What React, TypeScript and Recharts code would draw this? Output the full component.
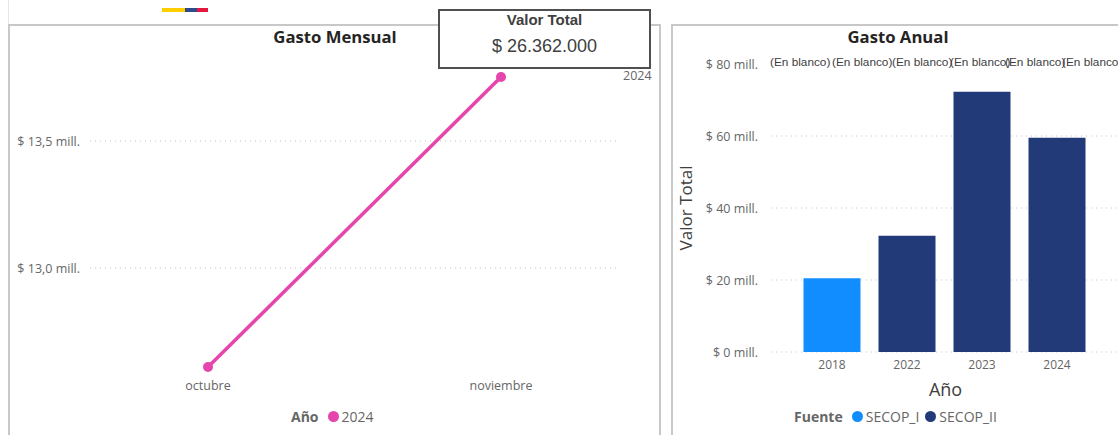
import React from 'react';
import {
  LineChart,
  Line,
  BarChart,
  Bar,
  XAxis,
  YAxis,
  CartesianGrid,
  Label,
} from 'recharts';

const months = ['octubre', 'noviembre'];
const monthlyValues = [12610000, 13752000];
const monthlyTicks = [13000000, 13500000];

const years = ['2018', '2022', '2023', '2024'];
const secopI = [20500000, null, null, null];
const secopII = [null, 32300000, 72300000, 59500000];
const annualTicks = [0, 20000000, 40000000, 60000000, 80000000];
const annualGridLines = [0, 20000000, 40000000, 60000000];
const blankLabels = ['(En blanco)', '(En blanco)', '(En blanco)', '(En blanco)', '(En blanco)', '(En blanco)'];
const blankLabelLefts = [770, 832, 892, 950, 1005, 1062];

const monthlyData = months.map((mes, i) => ({ mes, valor: monthlyValues[i] }));
const annualData = years.map((anio, i) => ({ anio, secopI: secopI[i], secopII: secopII[i] }));

const PINK = '#E645AB';
const LIGHT_BLUE = '#118DFF';
const DARK_BLUE = '#223A78';
const BORDER = '#C8C8C8';
const UI_FONT = '"Open Sans", sans-serif';
const ARIAL = '"Liberation Sans", sans-serif';

const tickStyle = { fill: '#666666', fontSize: 12.5, fontFamily: UI_FONT };
const valueTickStyle = { ...tickStyle, dy: 1 };
const yearTickStyle = { ...tickStyle, fontSize: 12 };

const formatMill = (v: number) =>
  `$ ${(v / 1000000).toFixed(1).replace('.', ',')} mill.`;
const formatMillInt = (v: number) => `$ ${Math.round(v / 1000000)} mill.`;

function EndLabel(props: { x?: number; y?: number; index?: number }) {
  const { x, y, index } = props;
  if (index !== monthlyData.length - 1 || x === undefined || y === undefined) return <g />;
  return (
    <text x={x + 122} y={y + 3} fill="#666666" fontSize={12.5} fontFamily={UI_FONT}>
      2024
    </text>
  );
}

function Panel({ left, width }: { left: number; width: number }) {
  return (
    <div
      style={{
        position: 'absolute',
        left,
        top: 24,
        width,
        height: 420,
        boxSizing: 'border-box',
        border: `2px solid ${BORDER}`,
      }}
    />
  );
}

function Title({ text, center }: { text: string; center: number }) {
  return (
    <div
      style={{
        position: 'absolute',
        left: center - 100,
        width: 200,
        top: 25,
        textAlign: 'center',
        fontFamily: UI_FONT,
        fontWeight: 700,
        fontSize: 16.7,
        color: '#252423',
      }}
    >
      {text}
    </div>
  );
}

function LegendRow({
  title,
  items,
  left,
}: {
  title: string;
  items: { name: string; color: string }[];
  left: number;
}) {
  return (
    <div
      style={{
        position: 'absolute',
        left,
        top: 408,
        display: 'flex',
        alignItems: 'center',
        fontFamily: UI_FONT,
        fontSize: 14,
        lineHeight: '17px',
        color: '#666666',
        whiteSpace: 'nowrap',
      }}
    >
      <span style={{ fontWeight: 700, marginRight: 9 }}>{title}</span>
      {items.map((item) => (
        <span key={item.name} style={{ display: 'flex', alignItems: 'center', marginRight: 6 }}>
          <span
            style={{
              width: 11,
              height: 11,
              borderRadius: '50%',
              background: item.color,
              marginRight: 3,
            }}
          />
          {item.name}
        </span>
      ))}
    </div>
  );
}

export default function App() {
  return (
    <div
      style={{
        position: 'fixed',
        left: 0,
        top: 0,
        width: 1118,
        height: 435,
        overflow: 'hidden',
        background: '#fff',
      }}
    >
      {/* franja de la bandera */}
      <div style={{ position: 'absolute', left: 162, top: 8, width: 23, height: 4, background: '#FFCD00' }} />
      <div style={{ position: 'absolute', left: 185, top: 8, width: 12, height: 4, background: '#2E4A8E' }} />
      <div style={{ position: 'absolute', left: 197, top: 8, width: 11, height: 4, background: '#E4173E' }} />
      <div style={{ position: 'absolute', left: 8, top: 0, width: 1, height: 24, background: '#E6E6E6' }} />

      <Panel left={8} width={653} />
      <Panel left={671} width={470} />

      <div style={{ position: 'absolute', left: 0, top: 0 }}>
        <LineChart
          width={660}
          height={435}
          data={monthlyData}
          margin={{ top: 60, right: 41, bottom: 0, left: 0 }}
        >
          <CartesianGrid
            horizontal
            vertical={false}
            stroke="#C4C4C4"
            strokeDasharray="1 4"
            horizontalValues={monthlyTicks}
          />
          <XAxis
            dataKey="mes"
            height={55}
            axisLine={false}
            tickLine={false}
            tick={tickStyle}
            tickMargin={-5}
            padding={{ left: 118, right: 118 }}
          />
          <YAxis
            width={90}
            domain={[12559000, 13819000]}
            ticks={monthlyTicks}
            tickFormatter={formatMill}
            axisLine={false}
            tickLine={false}
            tick={valueTickStyle}
            tickMargin={4}
          />
          <Line
            dataKey="valor"
            stroke={PINK}
            strokeWidth={3.5}
            dot={{ r: 5, fill: PINK, stroke: PINK, strokeWidth: 0 }}
            label={<EndLabel />}
            isAnimationActive={false}
          />
        </LineChart>
      </div>

      <div style={{ position: 'absolute', left: 660, top: 0 }}>
        <BarChart
          width={458}
          height={435}
          data={annualData}
          margin={{ top: 64, right: 0, bottom: 0, left: 0 }}
          barSize={57}
        >
          <CartesianGrid
            horizontal
            vertical={false}
            stroke="#C4C4C4"
            strokeDasharray="1 4"
            horizontalValues={annualGridLines}
          />
          <XAxis
            dataKey="anio"
            height={83}
            axisLine={false}
            tickLine={false}
            tick={yearTickStyle}
            tickMargin={2}
            padding={{ left: 23.5, right: 23.5 }}
          >
            <Label
              value="Año"
              position="insideTop"
              offset={31}
              dx={1}
              style={{ fill: '#404040', fontSize: 18, fontFamily: UI_FONT }}
            />
          </XAxis>
          <YAxis
            width={111}
            domain={[0, 80000000]}
            ticks={annualTicks}
            tickFormatter={formatMillInt}
            axisLine={false}
            tickLine={false}
            tick={valueTickStyle}
            tickMargin={7}
          >
            <Label
              value="Valor Total"
              angle={-90}
              position="insideLeft"
              offset={26}
              style={{ fill: '#404040', fontSize: 17, fontFamily: UI_FONT, textAnchor: 'middle' }}
            />
          </YAxis>
          <Bar dataKey="secopI" stackId="fuente" fill={LIGHT_BLUE} isAnimationActive={false} />
          <Bar dataKey="secopII" stackId="fuente" fill={DARK_BLUE} isAnimationActive={false} />
        </BarChart>
      </div>

      {blankLabels.map((text, i) => (
        <div
          key={i}
          style={{
            position: 'absolute',
            left: blankLabelLefts[i],
            top: 55,
            fontFamily: ARIAL,
            fontSize: 11.8,
            lineHeight: '14px',
            color: '#404040',
            whiteSpace: 'nowrap',
          }}
        >
          {text}
        </div>
      ))}

      <Title text="Gasto Mensual" center={335} />
      <Title text="Gasto Anual" center={898} />

      <LegendRow title="Año" left={291} items={[{ name: '2024', color: PINK }]} />
      <LegendRow
        title="Fuente"
        left={794}
        items={[
          { name: 'SECOP_I', color: LIGHT_BLUE },
          { name: 'SECOP_II', color: DARK_BLUE },
        ]}
      />

      {/* tarjeta de valor total */}
      <div
        style={{
          position: 'absolute',
          left: 438,
          top: 9,
          width: 213,
          height: 60,
          boxSizing: 'border-box',
          border: '2px solid #505050',
          background: '#fff',
          textAlign: 'center',
          fontFamily: ARIAL,
          color: '#404040',
        }}
      >
        <div style={{ fontSize: 15, fontWeight: 700, marginTop: 0, lineHeight: '18px' }}>Valor Total</div>
        <div style={{ fontSize: 18, marginTop: 7, lineHeight: '21px' }}>$ 26.362.000</div>
      </div>
    </div>
  );
}
